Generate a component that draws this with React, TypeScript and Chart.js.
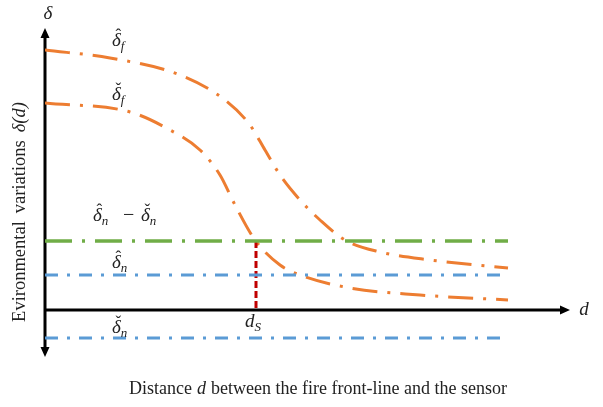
import React, { useEffect, useRef } from "react";
import { Chart, registerables } from "chart.js";
Chart.register(...registerables);

// Schematic curve data (distance d, variation δ)
const upperX = [0, 6.5, 13.5, 18, 20.5, 22, 23.5, 25.5, 27.5, 30, 33.5, 38.5, 46.3];
const upperY = [26.0, 25.2, 23.5, 21.0, 18.5, 16.0, 13.5, 11.0, 9.0, 7.0, 5.8, 5.0, 4.2];
const lowerX = [0, 8.5, 12.5, 15.5, 17.5, 19, 21, 23.5, 25.5, 30.5, 37.5, 46.3];
const lowerY = [20.7, 19.8, 18.0, 16.0, 13.5, 10.5, 7.0, 4.5, 3.5, 2.2, 1.5, 1.0];
const lineX = [0, 46.3];
const greenLevel = 6.9; // δ̂n − δ̌n
const blueHatLevel = 3.5; // δ̂n
const blueCheckLevel = -2.8; // δ̌n
const dS = 21.1;

const serif = '"Liberation Serif", "DejaVu Serif", serif';

function drawMath(ctx: CanvasRenderingContext2D, x: number, y: number, base: string, accent: string, sub: string) {
  ctx.save();
  ctx.fillStyle = "#222";
  ctx.textBaseline = "alphabetic";
  ctx.textAlign = "left";
  ctx.font = `italic 19px ${serif}`;
  ctx.fillText(base, x, y);
  const w = ctx.measureText(base).width;
  if (accent) {
    ctx.font = `17px ${serif}`;
    const aw = ctx.measureText(accent).width;
    ctx.fillText(accent, x + w / 2 - aw / 2 + 2, y - 6);
  }
  ctx.font = `italic 13px ${serif}`;
  ctx.fillText(sub, x + w, y + 4);
  const sw = ctx.measureText(sub).width;
  ctx.restore();
  return w + sw;
}

function drawRun(ctx: CanvasRenderingContext2D, parts: [string, boolean][], cx: number, y: number, size: number, gap: number) {
  const widths = parts.map(([t, it]) => {
    ctx.font = `${it ? "italic " : ""}${size}px ${serif}`;
    return ctx.measureText(t).width;
  });
  const total = widths.reduce((a, b) => a + b, 0) + gap * (parts.length - 1);
  let sx = cx - total / 2;
  parts.forEach(([t, it], i) => {
    ctx.font = `${it ? "italic " : ""}${size}px ${serif}`;
    ctx.fillText(t, sx, y);
    sx += widths[i] + gap;
  });
}

const annotations: any = {
  id: "annotations",
  beforeDatasetsDraw(chart: any) {
    const { ctx, scales } = chart;
    const xs = scales.x, ys = scales.y;
    const x0 = xs.getPixelForValue(0);
    const y0 = ys.getPixelForValue(0);
    const top = ys.getPixelForValue(ys.max);
    const bottom = ys.getPixelForValue(ys.min);
    const right = xs.getPixelForValue(xs.max);
    ctx.save();
    ctx.strokeStyle = "#000";
    ctx.fillStyle = "#000";
    ctx.lineWidth = 3;
    ctx.beginPath();
    ctx.moveTo(x0, top + 8);
    ctx.lineTo(x0, bottom - 8);
    ctx.moveTo(x0 - 1, y0);
    ctx.lineTo(right - 8, y0);
    ctx.stroke();
    ctx.beginPath();
    ctx.moveTo(x0, top);
    ctx.lineTo(x0 - 4.5, top + 10);
    ctx.lineTo(x0 + 4.5, top + 10);
    ctx.closePath();
    ctx.moveTo(x0, bottom);
    ctx.lineTo(x0 - 4.5, bottom - 10);
    ctx.lineTo(x0 + 4.5, bottom - 10);
    ctx.closePath();
    ctx.moveTo(right, y0);
    ctx.lineTo(right - 10, y0 - 4.5);
    ctx.lineTo(right - 10, y0 + 4.5);
    ctx.closePath();
    ctx.fill();
    ctx.restore();
  },
  afterDatasetsDraw(chart: any) {
    const { ctx, scales } = chart;
    const xs = scales.x, ys = scales.y;
    const X = (v: number) => xs.getPixelForValue(v);
    const Y = (v: number) => ys.getPixelForValue(v);
    ctx.save();
    ctx.fillStyle = "#222";
    ctx.font = `italic 19px ${serif}`;
    ctx.textAlign = "center";
    ctx.textBaseline = "alphabetic";
    ctx.fillText("δ", X(0) + 3, 19);
    ctx.fillText("d", X(xs.max) + 14, Y(0) + 5);
    // curve labels
    drawMath(ctx, X(6.7), Y(26.4), "δ", "ˆ", "f");
    drawMath(ctx, X(6.7), Y(21.0), "δ", "ˇ", "f");
    const lx = X(4.8);
    drawMath(ctx, lx, Y(8.9), "δ", "ˆ", "n");
    ctx.font = `20px ${serif}`;
    ctx.textAlign = "left";
    ctx.fillStyle = "#222";
    ctx.fillText("−", lx + 30, Y(8.9));
    drawMath(ctx, lx + 48, Y(8.9), "δ", "ˇ", "n");
    drawMath(ctx, X(6.7), Y(4.2), "δ", "ˆ", "n");
    drawMath(ctx, X(6.7), Y(-2.3), "δ", "ˇ", "n");
    drawMath(ctx, X(dS) - 11, Y(-1.7), "d", "", "S");
    // y title
    ctx.save();
    ctx.translate(25, 212);
    ctx.rotate(-Math.PI / 2);
    ctx.textAlign = "left";
    ctx.fillStyle = "#222";
    drawRun(ctx, [["Evironmental", false], ["variations", false], ["δ(d)", true]], 0, 0, 18.5, 8);
    ctx.restore();
    // x title
    ctx.textAlign = "left";
    drawRun(ctx, [["Distance", false], ["d", true], ["between the fire front-line and the sensor", false]], 318, 394, 18, 5);
    ctx.restore();
  },
};

export default function App() {
  const ref = useRef<HTMLCanvasElement>(null);
  useEffect(() => {
    const orange = "#ED7D31";
    const chart = new Chart(ref.current!, {
      type: "line",
      data: {
        datasets: [
          {
            data: lineX.map((x) => ({ x, y: greenLevel })),
            borderColor: "#70AD47",
            borderWidth: 3.5,
            borderDash: [27, 10, 3, 10],
            pointRadius: 0,
          },
          {
            data: lineX.map((x) => ({ x, y: blueHatLevel })),
            borderColor: "#5B9BD5",
            borderWidth: 3,
            borderDash: [13, 9, 3, 9],
            pointRadius: 0,
          },
          {
            data: lineX.map((x) => ({ x, y: blueCheckLevel })),
            borderColor: "#5B9BD5",
            borderWidth: 3,
            borderDash: [13, 9, 3, 9],
            pointRadius: 0,
          },
          {
            data: [{ x: dS, y: greenLevel }, { x: dS, y: 0 }],
            borderColor: "#C00000",
            borderWidth: 3,
            borderDash: [7, 3],
            pointRadius: 0,
          },
          {
            data: upperX.map((x, i) => ({ x, y: upperY[i] })),
            borderColor: orange,
            borderWidth: 3,
            borderDash: [25, 10, 3, 10],
            pointRadius: 0,
            cubicInterpolationMode: "monotone",
          },
          {
            data: lowerX.map((x, i) => ({ x, y: lowerY[i] })),
            borderColor: orange,
            borderWidth: 3,
            borderDash: [25, 10, 3, 10],
            pointRadius: 0,
            cubicInterpolationMode: "monotone",
          },
        ],
      },
      options: {
        animation: false,
        responsive: false,
        layout: { padding: { left: 45, right: 33, top: 28, bottom: 50 } },
        plugins: { legend: { display: false }, tooltip: { enabled: false } },
        scales: {
          x: { type: "linear", min: 0, max: 52.5, display: false },
          y: { type: "linear", min: -4.7, max: 28.2, display: false },
        },
      },
      plugins: [annotations],
    } as any);
    return () => chart.destroy();
  }, []);
  return (
    <div style={{ position: "fixed", left: 0, top: 0, width: 603, height: 407, background: "#fff" }}>
      <canvas ref={ref} width={603} height={407} style={{ width: 603, height: 407 }} />
    </div>
  );
}
